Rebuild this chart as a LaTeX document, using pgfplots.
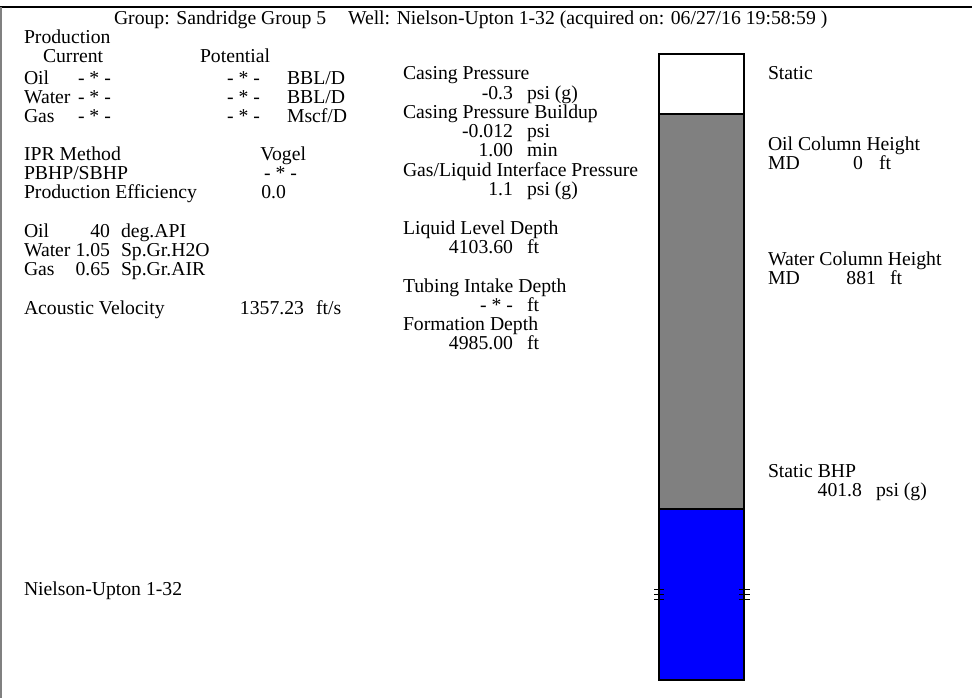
\documentclass[border=0pt]{standalone}
\usepackage{fontspec}
\setmainfont{Liberation Serif}
\usepackage{pgfplots}
\pgfplotsset{compat=1.18}
\definecolor{colgray}{RGB}{128,128,128}
\definecolor{colblue}{RGB}{0,0,255}
\tikzset{t/.style={font=\fontsize{19.7bp}{23.3bp}\selectfont, inner sep=0pt, outer sep=0pt}}
\begin{document}
\fontsize{19.7bp}{23.3bp}\selectfont
\begin{tikzpicture}
\useasboundingbox (0,0) rectangle (972bp,698bp);
\begin{axis}[
  x=1bp, y=1bp, y dir=reverse,
  xmin=0, xmax=972, ymin=0, ymax=698,
  hide axis, clip=false, scale only axis,
  at={(0,0)}, anchor=south west,
]
% frame
\addplot[black, line width=2bp] coordinates {(0,7) (972,7)};
\addplot[colgray, line width=2bp] coordinates {(1,7) (1,698)};
% column: white (gas), gray, blue (water)
\addplot[draw=black, fill=white, line width=1.5bp] coordinates {(659,54) (744,54) (744,114) (659,114)} -- cycle;
\addplot[draw=black, fill=colgray, line width=1.5bp] coordinates {(659,114) (744,114) (744,509) (659,509)} -- cycle;
\addplot[draw=black, fill=colblue, line width=1.5bp] coordinates {(659,509) (744,509) (744,680) (659,680)} -- cycle;
% tubing intake marks
\addplot[black, line width=1bp] coordinates {(654,589) (664,589)};
\addplot[black, line width=1bp] coordinates {(654,594) (664,594)};
\addplot[black, line width=1bp] coordinates {(654,599) (664,599)};
\addplot[black, line width=1bp] coordinates {(739,589) (750,589)};
\addplot[black, line width=1bp] coordinates {(739,594) (750,594)};
\addplot[black, line width=1bp] coordinates {(739,599) (750,599)};
% title
\node[t, anchor=base west] at (axis cs:114,24) {Group: Sandridge Group 5};
\node[t, anchor=base west] at (axis cs:348,24) {Well: Nielson-Upton 1-32 (acquired on: 06/27/16 19:58:59 )};
% left column
\node[t, anchor=base west] at (axis cs:24,43) {Production};
\node[t, anchor=base west] at (axis cs:43,62) {Current};
\node[t, anchor=base west] at (axis cs:200,62) {Potential};
\node[t, anchor=base west] at (axis cs:24,84) {Oil};
\node[t, anchor=base west] at (axis cs:78,84) {- * -};
\node[t, anchor=base east] at (axis cs:260,84) {- * -};
\node[t, anchor=base west] at (axis cs:287,84) {BBL/D};
\node[t, anchor=base west] at (axis cs:24,103) {Water};
\node[t, anchor=base west] at (axis cs:78,103) {- * -};
\node[t, anchor=base east] at (axis cs:260,103) {- * -};
\node[t, anchor=base west] at (axis cs:287,103) {BBL/D};
\node[t, anchor=base west] at (axis cs:24,122) {Gas};
\node[t, anchor=base west] at (axis cs:78,122) {- * -};
\node[t, anchor=base east] at (axis cs:260,122) {- * -};
\node[t, anchor=base west] at (axis cs:287,122) {Mscf/D};
\node[t, anchor=base west] at (axis cs:24,160) {IPR Method};
\node[t, anchor=base east] at (axis cs:306,160) {Vogel};
\node[t, anchor=base west] at (axis cs:24,179) {PBHP/SBHP};
\node[t, anchor=base east] at (axis cs:297,179) {- * -};
\node[t, anchor=base west] at (axis cs:24,198) {Production Efficiency};
\node[t, anchor=base east] at (axis cs:286,198) {0.0};
\node[t, anchor=base west] at (axis cs:24,237) {Oil};
\node[t, anchor=base east] at (axis cs:110,237) {40};
\node[t, anchor=base west] at (axis cs:121,237) {deg.API};
\node[t, anchor=base west] at (axis cs:24,256) {Water};
\node[t, anchor=base east] at (axis cs:110,256) {1.05};
\node[t, anchor=base west] at (axis cs:121,256) {Sp.Gr.H2O};
\node[t, anchor=base west] at (axis cs:24,275) {Gas};
\node[t, anchor=base east] at (axis cs:110,275) {0.65};
\node[t, anchor=base west] at (axis cs:121,275) {Sp.Gr.AIR};
\node[t, anchor=base west] at (axis cs:24,314) {Acoustic Velocity};
\node[t, anchor=base east] at (axis cs:304,314) {1357.23};
\node[t, anchor=base west] at (axis cs:316,314) {ft/s};
\node[t, anchor=base west] at (axis cs:24,595) {Nielson-Upton 1-32};
% middle column
\node[t, anchor=base west] at (axis cs:403,79) {Casing Pressure};
\node[t, anchor=base east] at (axis cs:513,99) {-0.3};
\node[t, anchor=base west] at (axis cs:527,99) {psi (g)};
\node[t, anchor=base west] at (axis cs:403,118) {Casing Pressure Buildup};
\node[t, anchor=base east] at (axis cs:513,137) {-0.012};
\node[t, anchor=base west] at (axis cs:527,137) {psi};
\node[t, anchor=base east] at (axis cs:513,156) {1.00};
\node[t, anchor=base west] at (axis cs:527,156) {min};
\node[t, anchor=base west] at (axis cs:403,176) {Gas/Liquid Interface Pressure};
\node[t, anchor=base east] at (axis cs:513,195) {1.1};
\node[t, anchor=base west] at (axis cs:527,195) {psi (g)};
\node[t, anchor=base west] at (axis cs:403,234) {Liquid Level Depth};
\node[t, anchor=base east] at (axis cs:513,253) {4103.60};
\node[t, anchor=base west] at (axis cs:527,253) {ft};
\node[t, anchor=base west] at (axis cs:403,292) {Tubing Intake Depth};
\node[t, anchor=base east] at (axis cs:513,311) {- * -};
\node[t, anchor=base west] at (axis cs:527,311) {ft};
\node[t, anchor=base west] at (axis cs:403,330) {Formation Depth};
\node[t, anchor=base east] at (axis cs:513,349) {4985.00};
\node[t, anchor=base west] at (axis cs:527,349) {ft};
% right column
\node[t, anchor=base west] at (axis cs:768,79) {Static};
\node[t, anchor=base west] at (axis cs:768,150) {Oil Column Height};
\node[t, anchor=base west] at (axis cs:768,169) {MD};
\node[t, anchor=base east] at (axis cs:863,169) {0};
\node[t, anchor=base west] at (axis cs:879,169) {ft};
\node[t, anchor=base west] at (axis cs:768,265) {Water Column Height};
\node[t, anchor=base west] at (axis cs:768,284) {MD};
\node[t, anchor=base east] at (axis cs:876,284) {881};
\node[t, anchor=base west] at (axis cs:890,284) {ft};
\node[t, anchor=base west] at (axis cs:768,477) {Static BHP};
\node[t, anchor=base east] at (axis cs:862,496) {401.8};
\node[t, anchor=base west] at (axis cs:876,496) {psi (g)};
\end{axis}
\end{tikzpicture}
\end{document}
